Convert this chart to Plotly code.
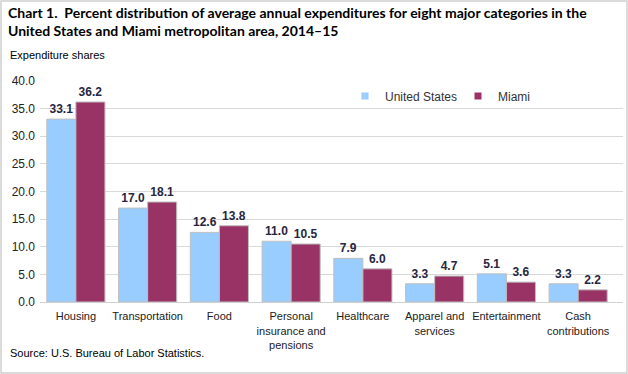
import plotly.graph_objects as go

categories = ["Housing", "Transportation", "Food", "Personal<br>insurance and<br>pensions",
              "Healthcare", "Apparel and<br>services", "Entertainment", "Cash<br>contributions"]
us_values = [33.1, 17.0, 12.6, 11.0, 7.9, 3.3, 5.1, 3.3]
miami_values = [36.2, 18.1, 13.8, 10.5, 6.0, 4.7, 3.6, 2.2]
series_names = ["United States", "Miami"]
colors = ["#99CCFF", "#993366"]
y_ticks = [0, 5, 10, 15, 20, 25, 30, 35, 40]

W, H = 628, 374
L, R, T, B = 40, 5, 81, 72
PW, PH = W - L - R, H - T - B

x = list(range(len(categories)))
fig = go.Figure()
for name, vals, col in zip(series_names, [us_values, miami_values], colors):
    fig.add_trace(go.Bar(
        x=x, y=vals, name=name, marker=dict(color=col, line=dict(color="#BFBFBF", width=1)),
        text=[f"{v:.1f}" for v in vals], textposition="outside",
        texttemplate="<b>%{text}</b>",
        textfont=dict(family="Liberation Sans, Arial", size=12, color="#262640"),
        cliponaxis=False, showlegend=False))
    fig.add_trace(go.Scatter(
        x=[None], y=[None], mode="markers", name=name,
        marker=dict(symbol="square", size=7, color=col)))

fig.update_layout(
    width=W, height=H,
    margin=dict(l=L, r=R, t=T, b=B, autoexpand=False),
    paper_bgcolor="white", plot_bgcolor="white",
    barmode="group", bargap=0.19, bargroupgap=0,
    font=dict(family="Liberation Sans, Arial", size=11, color="#222222"),
    legend=dict(orientation="h", x=(345 - L) / PW, xanchor="left", y=1 - 15 / PH, yanchor="middle",
                font=dict(size=12, color="#333333"), itemwidth=30, entrywidth=68,
                tracegroupgap=0, bgcolor="rgba(0,0,0,0)"),
    xaxis=dict(range=[-0.5, 7.625], tickmode="array", tickvals=x, ticktext=categories,
               showline=True, linecolor="#D0D0D0", ticks="", showgrid=False, automargin=False,
               ticklabelstandoff=4,
               tickfont=dict(size=11, color="#222222"), fixedrange=True),
    yaxis=dict(range=[0, 40], tickmode="array", tickvals=y_ticks,
               ticktext=[f"{v:.1f}" for v in y_ticks], automargin=False,
               ticklabelstandoff=4,
               showgrid=True, gridcolor="#D9D9D9", gridwidth=1, zeroline=False,
               showline=False, ticks="", tickfont=dict(size=12, color="#222222")),
    annotations=[
        dict(text="<b>Chart 1.  Percent distribution of average annual expenditures for eight major categories in the<br>United States and Miami metropolitan area, 2014–15</b>",
             xref="paper", yref="paper", x=0, y=1, xshift=-34, yshift=79, xanchor="left", yanchor="top",
             align="left", showarrow=False,
             font=dict(family="Lato, Carlito, Calibri", size=14, color="#000000")),
        dict(text="Expenditure shares", xref="paper", yref="paper", x=0, y=1, xshift=-32, yshift=26,
             xanchor="left", yanchor="middle", showarrow=False,
             font=dict(size=11, color="#000000")),
        dict(text="Source: U.S. Bureau of Labor Statistics.", xref="paper", yref="paper", x=0, y=0,
             xshift=-32, yshift=-51, xanchor="left", yanchor="middle", showarrow=False,
             font=dict(size=11, color="#000000")),
    ],
)
# outer border of the image
fig.add_shape(type="rect", xref="paper", yref="paper",
              x0=(1 - L) / PW, x1=(W - 1 - L) / PW,
              y0=-(B - 1) / PH, y1=1 + (T - 1) / PH,
              line=dict(color="#CFCFCF", width=1.5), layer="above")

fig.write_html("out.html", config={"displayModeBar": False},
               post_script="document.body.style.margin='0';document.body.style.padding='0';")
